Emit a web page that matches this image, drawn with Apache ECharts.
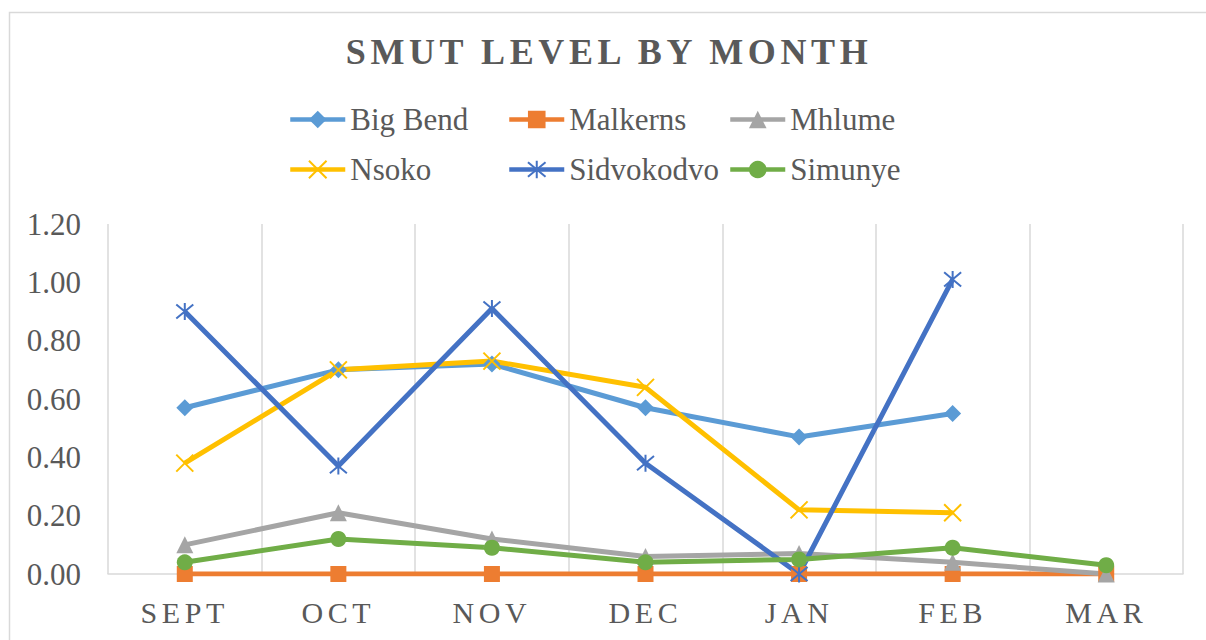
<!DOCTYPE html>
<html>
<head>
<meta charset="utf-8">
<script src="https://cdn.jsdelivr.net/npm/echarts@6/dist/echarts.min.js"></script>
<style>
html,body{margin:0;padding:0;background:#fff;}
#chart{width:1206px;height:640px;}
#chart svg text[style*="bold"]{letter-spacing:4.6px;}
#chart svg text[style*="30px"]{letter-spacing:4.6px;}
</style>
</head>
<body>
<div id="chart"></div>
<script>
const months = ['SEPT', 'OCT', 'NOV', 'DEC', 'JAN', 'FEB', 'MAR'];
const seriesNames = ['Big Bend', 'Malkerns', 'Mhlume', 'Nsoko', 'Sidvokodvo', 'Simunye'];
const bigBend = [0.57, 0.70, 0.72, 0.57, 0.47, 0.55, null];
const malkerns = [0.00, 0.00, 0.00, 0.00, 0.00, 0.00, 0.00];
const mhlume = [0.10, 0.21, 0.12, 0.06, 0.07, 0.04, 0.00];
const nsoko = [0.38, 0.70, 0.73, 0.64, 0.22, 0.21, null];
const sidvokodvo = [0.90, 0.37, 0.91, 0.38, 0.00, 1.01, null];
const simunye = [0.04, 0.12, 0.09, 0.04, 0.05, 0.09, 0.03];
const yTicks = { min: 0, max: 1.2, interval: 0.2 };

const FONT = '"Liberation Serif", "Times New Roman", serif';
const TXT = '#595959';
const GRIDC = '#D9D9D9';

function mk(name, data, color, symbol, size, bw) {
  return {
    name: name,
    type: 'line',
    data: data,
    symbol: symbol,
    symbolSize: size,
    showAllSymbol: true,
    connectNulls: false,
    lineStyle: { color: color, width: 5 },
    itemStyle: { color: color, borderColor: color, borderWidth: bw || 0 },
    emphasis: { disabled: true },
    animation: false
  };
}

const series = [
  mk(seriesNames[0], bigBend, '#5B9BD5', 'diamond', 17),
  mk(seriesNames[1], malkerns, '#ED7D31', 'rect', 16),
  mk(seriesNames[2], mhlume, '#A5A5A5', 'triangle', 17),
  mk(seriesNames[3], nsoko, '#FFC000', 'path://M0,0L10,10M10,0L0,10', 17, 2),
  mk(seriesNames[4], sidvokodvo, '#4472C4', 'path://M0,0L10,10M10,0L0,10M5,-1L5,11', 17, 2),
  mk(seriesNames[5], simunye, '#70AD47', 'circle', 16)
];

const legendCols = [288, 507, 728];
const legendRows = [104, 154];
const legends = seriesNames.map((n, i) => ({
  orient: 'horizontal',
  left: legendCols[i % 3],
  top: legendRows[Math.floor(i / 3)],
  padding: 0,
  itemWidth: 55,
  itemHeight: 22,
  itemGap: 0,
  selectedMode: false,
  lineStyle: { width: 4.5 },
  textStyle: { fontFamily: FONT, fontSize: 31, color: TXT },
  data: [n]
}));

const chart = echarts.init(document.getElementById('chart'), null, { renderer: 'svg', width: 1206, height: 640 });
chart.setOption({
  backgroundColor: '#fff',
  animation: false,
  title: {
    text: 'SMUT LEVEL BY MONTH',
    left: 609,
    textAlign: 'center',
    top: 34,
    padding: 0,
    textStyle: { fontFamily: FONT, fontSize: 36, fontWeight: 'bold', color: TXT }
  },
  legend: legends,
  grid: { left: 108, right: 23, top: 224, bottom: 66, containLabel: false },
  xAxis: {
    type: 'category',
    data: months,
    boundaryGap: true,
    axisLine: { show: true, lineStyle: { color: GRIDC, width: 1.5 } },
    axisTick: { show: false },
    splitLine: { show: true, lineStyle: { color: GRIDC, width: 1.5 } },
    axisLabel: { fontFamily: FONT, fontSize: 30, color: TXT, margin: 23 }
  },
  yAxis: {
    type: 'value',
    min: yTicks.min,
    max: yTicks.max,
    interval: yTicks.interval,
    axisLine: { show: false },
    axisTick: { show: false },
    splitLine: { show: false },
    axisLabel: { fontFamily: FONT, fontSize: 31, color: TXT, margin: 27, formatter: v => v.toFixed(2) }
  },
  graphic: [{
    type: 'rect',
    left: 7, top: 10,
    shape: { width: 1215, height: 650 },
    style: { fill: 'none', stroke: GRIDC, lineWidth: 1.5 },
    silent: true, z: -10
  }],
  series: series
});
</script>
</body>
</html>
